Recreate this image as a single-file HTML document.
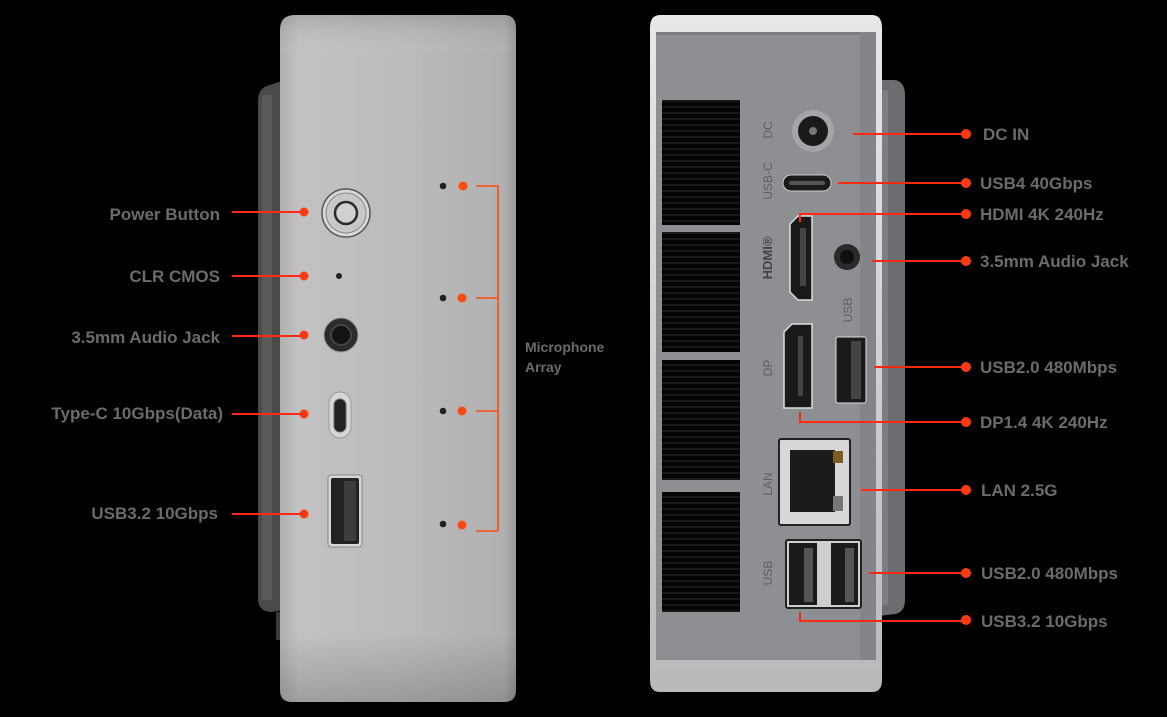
<!DOCTYPE html>
<html><head><meta charset="utf-8"><style>
html,body{margin:0;padding:0;background:#000;}
svg{display:block;}
text{font-family:"Liberation Sans",sans-serif;font-weight:bold;fill:#6b6b6b;}
</style></head><body>
<svg width="1167" height="717" viewBox="0 0 1167 717" xmlns="http://www.w3.org/2000/svg">
<defs>
<linearGradient id="lbody" x1="0" x2="1"><stop offset="0" stop-color="#b0b0b0"/><stop offset="0.08" stop-color="#c2c2c2"/><stop offset="0.5" stop-color="#bcbcbc"/><stop offset="0.95" stop-color="#b0b0b0"/><stop offset="1" stop-color="#9a9a9a"/></linearGradient>
<linearGradient id="lv" x1="0" y1="0" x2="0" y2="1"><stop offset="0" stop-color="#000" stop-opacity="0.12"/><stop offset="0.06" stop-color="#fff" stop-opacity="0"/><stop offset="0.9" stop-color="#000" stop-opacity="0"/><stop offset="1" stop-color="#000" stop-opacity="0.18"/></linearGradient>
<linearGradient id="rim" x1="0" y1="0" x2="0" y2="1"><stop offset="0" stop-color="#e8e8e8"/><stop offset="1" stop-color="#b9b9bb"/></linearGradient>
<pattern id="vent" width="10" height="6" patternUnits="userSpaceOnUse"><rect width="10" height="6" fill="#050505"/><rect y="4.5" width="10" height="1" fill="#2a2a2a"/></pattern>
</defs>

<!-- LEFT DEVICE -->
<path d="M270 85 L285 80 L285 610 L272 612 Q258 612 258 598 L258 100 Q258 88 270 85Z" fill="#4a4a4a"/>
<rect x="262" y="95" width="10" height="505" fill="#5a5a5a"/>
<rect x="276" y="612" width="6" height="28" fill="#3a3a3a"/>
<path d="M295 15 L504 15 Q516 15 516 28 L516 690 Q516 702 504 702 L292 702 Q280 702 280 690 L280 30 Q280 15 295 15Z" fill="url(#lbody)"/>
<path d="M295 15 L504 15 Q516 15 516 28 L516 690 Q516 702 504 702 L292 702 Q280 702 280 690 L280 30 Q280 15 295 15Z" fill="url(#lv)"/>
<!-- power button -->
<circle cx="346" cy="213" r="24" fill="#d8d8d8" stroke="#555" stroke-width="1.5"/>
<circle cx="346" cy="213" r="20" fill="#c8c8c8" stroke="#888" stroke-width="1"/>
<circle cx="346" cy="213" r="11" fill="#d0d0d0" stroke="#2a2a2a" stroke-width="2.5"/>
<circle cx="339" cy="276" r="3" fill="#222"/>
<circle cx="341" cy="335" r="17" fill="#2b2b2b" stroke="#999" stroke-width="1"/>
<circle cx="341" cy="335" r="10" fill="#141414" stroke="#444" stroke-width="2"/>
<rect x="329" y="392" width="22" height="46" rx="11" fill="#d6d6d6" stroke="#999"/>
<rect x="334" y="399" width="12" height="33" rx="6" fill="#222" stroke="#666"/>
<rect x="328" y="475" width="34" height="72" rx="3" fill="#d6d6d6" stroke="#888"/>
<rect x="331" y="478" width="28" height="66" rx="2" fill="#222"/>
<rect x="344" y="481" width="12" height="60" fill="#3d3d3d"/>
<!-- mic dots -->
<g fill="#222"><circle cx="443" cy="186" r="3.3"/><circle cx="443" cy="298" r="3.3"/><circle cx="443" cy="411" r="3.3"/><circle cx="443" cy="524" r="3.3"/></g>
<g fill="#ff4a10"><circle cx="463" cy="186" r="4.5"/><circle cx="462" cy="298" r="4.5"/><circle cx="462" cy="411" r="4.5"/><circle cx="462" cy="525" r="4.5"/></g>
<g stroke="#ff4a10" stroke-width="1.6" fill="none">
<path d="M476 186 H498 V531"/><path d="M476 298 H498"/><path d="M476 411 H498"/><path d="M476 531 H498"/>
</g>
<!-- left labels -->
<g font-size="17" text-anchor="end">
<text x="220" y="220">Power Button</text>
<text x="220" y="282">CLR CMOS</text>
<text x="220" y="343">3.5mm Audio Jack</text>
<text x="223" y="419">Type-C 10Gbps(Data)</text>
<text x="218" y="519">USB3.2 10Gbps</text>
</g>
<g stroke="#ff2a12" stroke-width="2">
<line x1="232" y1="212" x2="302" y2="212"/><line x1="232" y1="276" x2="302" y2="276"/><line x1="232" y1="336" x2="302" y2="336"/><line x1="232" y1="414" x2="302" y2="414"/><line x1="232" y1="514" x2="302" y2="514"/>
</g>
<g fill="#ff3a10"><circle cx="304" cy="212" r="4.5"/><circle cx="304" cy="276" r="4.5"/><circle cx="304" cy="335" r="4.5"/><circle cx="304" cy="414" r="4.5"/><circle cx="304" cy="514" r="4.5"/></g>
<text x="525" y="352" font-size="14">Microphone</text>
<text x="525" y="372" font-size="14">Array</text>

<!-- RIGHT DEVICE -->
<path d="M878 80 L895 80 Q905 82 905 95 L905 600 Q905 612 895 614 L878 616Z" fill="#6c6d70"/>
<rect x="880" y="90" width="8" height="515" fill="#7d7e82"/>
<path d="M660 15 L872 15 Q882 15 882 28 L882 680 Q882 692 872 692 L660 692 Q650 692 650 680 L650 28 Q650 15 660 15Z" fill="url(#rim)"/>
<rect x="656" y="32" width="220" height="628" fill="#8e8f93"/>
<rect x="656" y="32" width="220" height="3" fill="#7a7b7f"/>
<rect x="860" y="32" width="16" height="628" fill="#84858a"/>
<!-- vents -->
<rect x="662" y="100" width="78" height="125" fill="url(#vent)"/>
<rect x="662" y="232" width="78" height="120" fill="url(#vent)"/>
<rect x="662" y="360" width="78" height="120" fill="url(#vent)"/>
<rect x="662" y="492" width="78" height="120" fill="url(#vent)"/>
<!-- DC -->
<circle cx="813" cy="131" r="21" fill="#a4a5a8"/>
<circle cx="813" cy="131" r="15" fill="#1a1a1a"/>
<circle cx="813" cy="131" r="4" fill="#777"/>
<rect x="783" y="175" width="48" height="16" rx="8" fill="#1a1a1a" stroke="#ccc"/>
<rect x="789" y="181" width="36" height="4" rx="2" fill="#555"/>
<!-- HDMI -->
<path d="M790 224 L798 216 L812 216 L812 300 L798 300 L790 292Z" fill="#1a1a1a" stroke="#ddd" stroke-width="1.5"/>
<rect x="800" y="228" width="6" height="58" fill="#444"/>
<circle cx="847" cy="257" r="13" fill="#2a2a2a"/>
<circle cx="847" cy="257" r="7" fill="#0e0e0e"/>
<!-- DP -->
<path d="M784 332 L792 324 L812 324 L812 408 L784 408Z" fill="#1a1a1a" stroke="#ddd" stroke-width="1.5"/>
<rect x="798" y="336" width="5" height="60" fill="#444"/>
<rect x="836" y="337" width="30" height="66" rx="2" fill="#1a1a1a" stroke="#ddd"/>
<rect x="851" y="341" width="10" height="58" fill="#444"/>
<!-- LAN -->
<rect x="779" y="439" width="71" height="86" rx="2" fill="#d8d8d8" stroke="#222" stroke-width="2"/>
<rect x="790" y="450" width="45" height="62" fill="#1b1b1b"/>
<rect x="833" y="451" width="10" height="12" fill="#7a5c20"/>
<rect x="833" y="496" width="10" height="15" fill="#777"/>
<!-- dual USB -->
<rect x="786" y="540" width="75" height="68" rx="2" fill="#cfcfcf" stroke="#222" stroke-width="2"/>
<rect x="789" y="543" width="28" height="62" fill="#1b1b1b"/>
<rect x="831" y="543" width="27" height="62" fill="#1b1b1b"/>
<rect x="804" y="548" width="9" height="54" fill="#555"/>
<rect x="845" y="548" width="9" height="54" fill="#555"/>
<!-- rotated labels -->
<g font-family="Liberation Sans,sans-serif" font-size="12" text-anchor="middle">
<text transform="translate(772,130) rotate(-90)" style="fill:#5e5f63;font-weight:normal">DC</text>
<text transform="translate(772,181) rotate(-90)" style="fill:#5e5f63;font-weight:normal">USB-C</text>
<text transform="translate(772,258) rotate(-90)" style="fill:#444;font-weight:bold;font-size:13px">HDMI®</text>
<text transform="translate(852,310) rotate(-90)" style="fill:#5e5f63;font-weight:normal">USB</text>
<text transform="translate(772,368) rotate(-90)" style="fill:#5e5f63;font-weight:normal">DP</text>
<text transform="translate(772,484) rotate(-90)" style="fill:#5e5f63;font-weight:normal">LAN</text>
<text transform="translate(772,573) rotate(-90)" style="fill:#5e5f63;font-weight:normal">USB</text>
</g>
<!-- right lines -->
<g stroke="#ff2a12" stroke-width="2" fill="none">
<line x1="853" y1="134" x2="964" y2="134"/>
<line x1="838" y1="183" x2="964" y2="183"/>
<path d="M800 222 V214 H964"/>
<line x1="872" y1="261" x2="964" y2="261"/>
<line x1="874" y1="367" x2="964" y2="367"/>
<path d="M800 412 V422 H964"/>
<line x1="861" y1="490" x2="964" y2="490"/>
<line x1="869" y1="573" x2="964" y2="573"/>
<path d="M800 612 V621 H964"/>
</g>
<g fill="#ff3a10"><circle cx="966" cy="134" r="5"/><circle cx="966" cy="183" r="5"/><circle cx="966" cy="214" r="5"/><circle cx="966" cy="261" r="5"/><circle cx="966" cy="367" r="5"/><circle cx="966" cy="422" r="5"/><circle cx="966" cy="490" r="5"/><circle cx="966" cy="573" r="5"/><circle cx="966" cy="620" r="5"/></g>
<g font-size="17">
<text x="983" y="140">DC IN</text>
<text x="980" y="189">USB4 40Gbps</text>
<text x="980" y="220">HDMI 4K 240Hz</text>
<text x="980" y="267">3.5mm Audio Jack</text>
<text x="980" y="373">USB2.0 480Mbps</text>
<text x="980" y="428">DP1.4 4K 240Hz</text>
<text x="981" y="496">LAN 2.5G</text>
<text x="981" y="579">USB2.0 480Mbps</text>
<text x="981" y="627">USB3.2 10Gbps</text>
</g>
</svg>
</body></html>
